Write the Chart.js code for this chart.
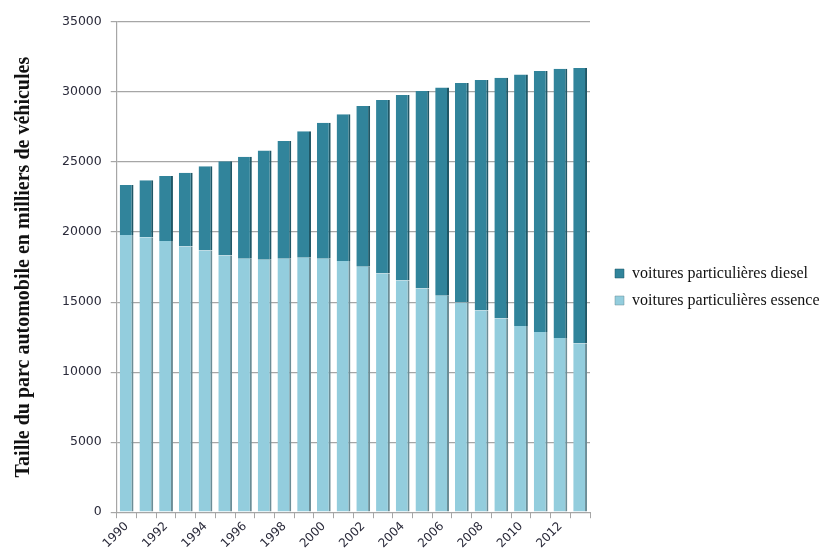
<!DOCTYPE html>
<html>
<head>
<meta charset="utf-8">
<title>Parc automobile</title>
<script src="https://cdn.jsdelivr.net/npm/chart.js@4.4.1/dist/chart.umd.min.js"></script>
<style>
  html, body { margin: 0; padding: 0; background: #fff; }
  #wrap { width: 824px; height: 555px; position: relative; }
</style>
</head>
<body>
<div id="wrap"><canvas id="parcChart"></canvas></div>
<script>
/* ---------- data (milliers de véhicules) ---------- */
const years = [1990, 1991, 1992, 1993, 1994, 1995, 1996, 1997, 1998, 1999, 2000, 2001,
               2002, 2003, 2004, 2005, 2006, 2007, 2008, 2009, 2010, 2011, 2012, 2013];

const essence = [19790, 19640, 19360, 18980, 18690, 18330, 18100, 18020, 18100, 18160, 18100, 17930,
                 17520, 17050, 16550, 15980, 15450, 14980, 14400, 13830, 13290, 12860, 12430, 12050];

const diesel = [3570, 4070, 4640, 5260, 6020, 6720, 7280, 7810, 8400, 9040, 9710, 10480,
                11480, 12380, 13240, 14090, 14880, 15670, 16460, 17190, 17970, 18640, 19240, 19660];

const yTicks = [0, 5000, 10000, 15000, 20000, 25000, 30000, 35000];

/* ---------- styles ---------- */
const C_DIESEL = '#31849b', C_DIESEL_EDGE = '#1f5766';
const C_ESS    = '#93cddd', C_ESS_EDGE    = '#6b8d96';
const GRID     = '#a6a6a6';
const TICK_TXT = '#2a2a3a';

const ctx = document.getElementById('parcChart').getContext('2d');

new Chart(ctx, {
  type: 'bar',
  data: {
    labels: years.map(String),
    datasets: [
      {
        label: 'voitures particulières essence',
        data: essence,
        backgroundColor: C_ESS,
        borderColor: C_ESS_EDGE,
        borderWidth: { top: 0, left: 0, bottom: 0, right: 2 },
        borderSkipped: false,
        barPercentage: 0.7,
        categoryPercentage: 1.0
      },
      {
        label: 'voitures particulières diesel',
        data: diesel,
        backgroundColor: C_DIESEL,
        borderColor: C_DIESEL_EDGE,
        borderWidth: { top: 0, left: 0, bottom: 0, right: 2 },
        borderSkipped: false,
        barPercentage: 0.7,
        categoryPercentage: 1.0
      }
    ]
  },
  options: {
    responsive: true,
    maintainAspectRatio: false,
    animation: false,
    layout: { padding: { top: 22, right: 0, bottom: 3, left: 12 } },
    scales: {
      x: {
        stacked: true,
        grid: { drawOnChartArea: false, drawTicks: true, tickLength: 6, color: GRID, offset: true },
        border: { color: GRID, width: 1 },
        ticks: {
          autoSkip: false,
          maxRotation: 45,
          minRotation: 45,
          color: TICK_TXT,
          font: { family: 'DejaVu Sans', size: 12 },
          padding: 1,
          callback: (v, i) => (i % 2 === 0 ? years[i] : '')
        }
      },
      y: {
        stacked: true,
        min: 0,
        max: 35000,
        afterBuildTicks: (s) => { s.ticks = yTicks.map(v => ({ value: v })); },
        grid: { color: GRID, lineWidth: 1.2, tickLength: 6 },
        border: { color: GRID, width: 1.2 },
        ticks: {
          color: TICK_TXT,
          font: { family: 'DejaVu Sans', size: 12.5 },
          padding: 9,
          callback: (v) => String(v)
        },
        title: {
          display: true,
          text: 'Taille du parc automobile en milliers de véhicules',
          color: '#111',
          font: { family: 'Liberation Serif', size: 20, weight: 'bold' },
          padding: { top: 0, bottom: 17 }
        }
      },
      spacer: {
        position: 'right',
        display: true,
        grid: { display: false },
        border: { display: false },
        ticks: { display: false },
        afterFit: (s) => { s.width = 14; }
      }
    },
    plugins: {
      legend: {
        position: 'right',
        reverse: true,
        maxWidth: 220,
        labels: {
          boxWidth: 9,
          boxHeight: 9,
          padding: 11,
          color: '#111',
          font: { family: 'Liberation Serif', size: 16 }
        }
      },
      tooltip: { enabled: false }
    }
  }
});
</script>
</body>
</html>
